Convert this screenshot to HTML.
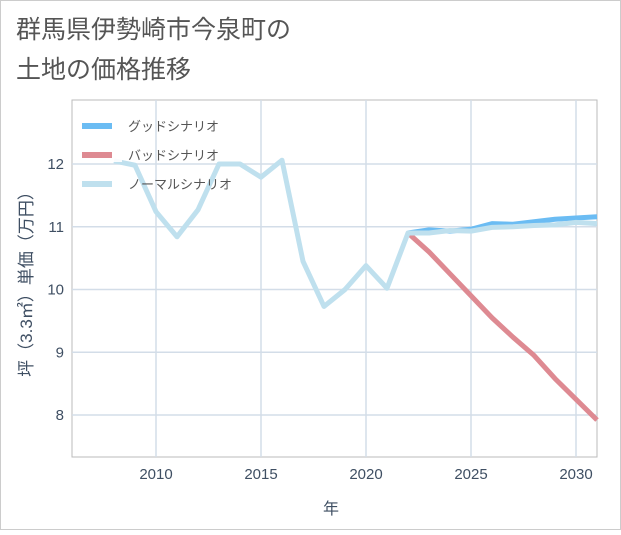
<!DOCTYPE html>
<html><head><meta charset="utf-8">
<style>
body{margin:0;background:#fff;font-family:"Liberation Sans","Noto Sans CJK JP",sans-serif;}
svg text{font-family:"Liberation Sans","Noto Sans CJK JP",sans-serif;}
</style></head>
<body>
<svg width="621" height="530">
<rect x="0.5" y="0.5" width="620" height="529" fill="#fff" stroke="#ccc"/>
<text x="16" y="38" font-size="25" fill="#555">群馬県伊勢崎市今泉町の</text>
<text x="16" y="78" font-size="25" fill="#555">土地の価格推移</text>
<g id="grid"></g>
<g id="series"></g>
<g id="legend"></g>
<text x="331" y="514" font-size="16" fill="#3f4f63" text-anchor="middle">年</text>
<text transform="translate(32,280) rotate(-90)" font-size="17" fill="#3f4f63" text-anchor="middle">坪（3.3㎡）単価（万円）</text>
</svg>
<script>
const xTicks=[2010,2015,2020,2025,2030];
const yTicks=[8,9,10,11,12];
const normalYears=[2008,2009,2010,2011,2012,2013,2014,2015,2016,2017,2018,2019,2020,2021,2022,2023,2024,2025,2026,2027,2028,2029,2030,2031];
const normalVals=[12.05,11.98,11.24,10.84,11.27,12.0,12.0,11.79,12.06,10.45,9.73,10.0,10.38,10.02,10.9,10.9,10.94,10.93,10.99,11.0,11.02,11.03,11.07,11.05];
const futureYears=[2022,2023,2024,2025,2026,2027,2028,2029,2030,2031];
const goodVals=[10.9,10.95,10.93,10.96,11.05,11.04,11.08,11.12,11.14,11.16];
const badVals=[10.9,10.6,10.25,9.9,9.55,9.24,8.95,8.58,8.25,7.92];
const L=72,R=597,T=100,B=457;
const X=y=>156+(y-2010)*21;
const Y=v=>164+(12-v)*62.75;
const NS="http://www.w3.org/2000/svg";
function mk(t,a,p){const e=document.createElementNS(NS,t);for(const k in a)e.setAttribute(k,a[k]);p.appendChild(e);return e;}
const g=document.getElementById('grid');
const frame=mk('rect',{x:L,y:T,width:R-L,height:B-T,fill:'none',stroke:'#bbb'},g);


xTicks.forEach(t=>{
 const l=mk('line',{x1:X(t),x2:X(t),y1:T,y2:B,stroke:'#d3dde8','stroke-width':1.5},g);
 
 
 const tx=mk('text',{x:X(t),y:479,'font-size':15,fill:'#3f4f63','text-anchor':'middle'},g);tx.textContent=t;
 
 
});
yTicks.forEach(t=>{
 const l=mk('line',{x1:L,x2:R,y1:Y(t),y2:Y(t),stroke:'#d3dde8','stroke-width':1.5},g);
 
 
 const tx=mk('text',{x:64,y:Y(t)+5,'font-size':15,fill:'#3f4f63','text-anchor':'end'},g);tx.textContent=t;
 
 
});
const s=document.getElementById('series');
function line(ys,vs,col,name){
 const p=mk('polyline',{points:ys.map((y,i)=>X(y)+','+Y(vs[i])).join(' '),fill:'none',stroke:col,'stroke-width':5,'stroke-linejoin':'round'},s);
 
 
}
line(futureYears,badVals,'#de8a92','bad-scenario-line');
line(futureYears,goodVals,'#6bbcf3','good-scenario-line');
line(normalYears,normalVals,'#bfe0ee','normal-scenario-line');
const lg=document.getElementById('legend');
const bg=mk('rect',{x:76,y:112,width:46,height:50,fill:'#fff','fill-opacity':0.9},lg);


[['グッドシナリオ','#6bbcf3'],['バッドシナリオ','#de8a92'],['ノーマルシナリオ','#bfe0ee']].forEach((d,i)=>{
 const y=126+i*29;
 const sw=mk('line',{x1:82,x2:112,y1:y,y2:y,stroke:d[1],'stroke-width':6},lg);
 
 
 const t=mk('text',{x:128,y:y+5,'font-size':13,fill:'#555'},lg);t.textContent=d[0];
 
 
});
</script>
</body></html>
